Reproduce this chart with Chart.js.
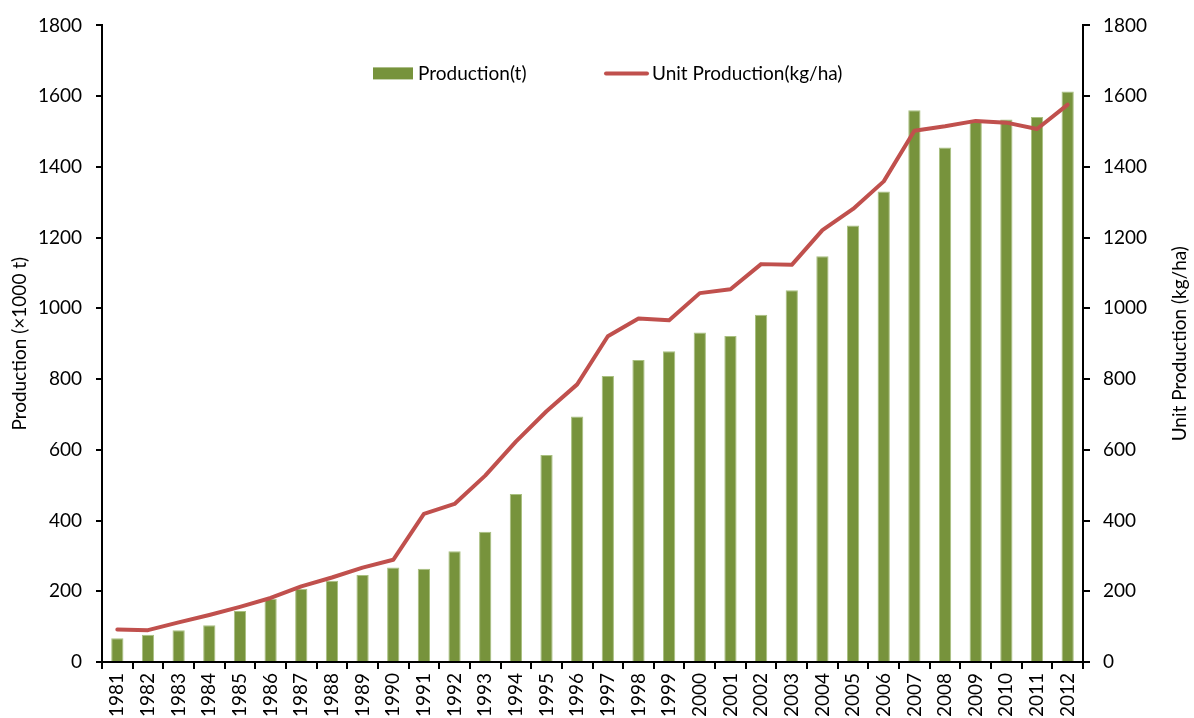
<!DOCTYPE html>
<html>
<head>
<meta charset="utf-8">
<script src="https://cdn.jsdelivr.net/npm/chart.js@4.4.1/dist/chart.umd.min.js"></script>
<style>
  html, body { margin: 0; padding: 0; background: #fff; }
  #wrap { width: 1194px; height: 718px; }
</style>
</head>
<body>
<div id="wrap"><canvas id="c" width="1194" height="718"></canvas></div>
<script>
const years = ['1981','1982','1983','1984','1985','1986','1987','1988','1989','1990','1991','1992','1993','1994','1995','1996','1997','1998','1999','2000','2001','2002','2003','2004','2005','2006','2007','2008','2009','2010','2011','2012'];
const production = [67,77,90,104,144,179,207,230,246,267,264,313,368,475,585,694,809,854,879,932,922,982,1051,1147,1234,1330,1560,1455,1530,1534,1541,1613];
const unitProduction = [92,90,112,133,156,181,214,239,267,289,419,447,527,623,709,785,921,971,966,1043,1054,1125,1123,1221,1281,1359,1502,1515,1530,1525,1507,1576];
const yTicks = [0,200,400,600,800,1000,1200,1400,1600,1800];
const labelProduction = 'Production(t)';
const labelUnit = 'Unit Production(kg/ha)';
const titleLeft = 'Production (×1000 t)';
const titleRight = 'Unit Production (kg/ha)';

const FONT = 'Lato, "Open Sans", sans-serif';
const FS = 19;
Chart.defaults.font.family = FONT;
Chart.defaults.font.size = FS;
Chart.defaults.color = '#000';

const legendPlugin = {
  id: 'inLegend',
  afterDraw(chart) {
    const ctx = chart.ctx;
    const ca = chart.chartArea;
    const ds = chart.data.datasets;
    const cy = ca.top + 48;
    ctx.save();
    ctx.font = FS + 'px ' + FONT;
    ctx.textBaseline = 'middle';
    // bar item
    let x = ca.left + 271;
    ctx.fillStyle = ds[0].backgroundColor;
    ctx.fillRect(x, cy - 6, 40, 12);
    ctx.fillStyle = '#000';
    ctx.fillText(ds[0].label, x + 45, cy);
    // line item
    x = ca.left + 504;
    ctx.strokeStyle = ds[1].borderColor;
    ctx.lineWidth = 4;
    ctx.lineCap = 'round';
    ctx.beginPath();
    ctx.moveTo(x, cy);
    ctx.lineTo(x + 41, cy);
    ctx.stroke();
    ctx.fillText(ds[1].label, x + 46, cy);
    // right axis title, reading bottom to top
    const s = chart.scales.y1;
    ctx.translate(s.right - 14, (ca.top + ca.bottom) / 2);
    ctx.rotate(-Math.PI / 2);
    ctx.textAlign = 'center';
    ctx.fillText(titleRight, 0, 0);
    ctx.restore();
  }
};

const plainTick = v => String(v);

new Chart(document.getElementById('c'), {
  type: 'bar',
  data: {
    labels: years,
    datasets: [
      {
        type: 'bar',
        label: labelProduction,
        data: production,
        backgroundColor: '#77933C',
        borderColor: '#A9C080',
        borderWidth: 1,
        barPercentage: 0.4,
        categoryPercentage: 1.0,
        yAxisID: 'y',
        order: 2
      },
      {
        type: 'line',
        label: labelUnit,
        data: unitProduction,
        borderColor: '#C0504D',
        backgroundColor: '#C0504D',
        borderWidth: 4,
        pointRadius: 0,
        tension: 0,
        borderCapStyle: 'round',
        borderJoinStyle: 'round',
        yAxisID: 'y1',
        order: 1
      }
    ]
  },
  options: {
    responsive: false,
    animation: false,
    devicePixelRatio: 1,
    layout: { padding: { top: 23, left: 0, right: 0, bottom: 0 } },
    plugins: {
      legend: { display: false },
      tooltip: { enabled: false }
    },
    scales: {
      x: {
        grid: { display: true, drawOnChartArea: false, drawTicks: true, tickLength: 7, color: '#000', lineWidth: 2, offset: true },
        border: { display: true, color: '#000', width: 2 },
        ticks: { minRotation: 90, maxRotation: 90, padding: 4, autoSkip: false, font: { size: FS } },
        afterFit(s) { s.height = 56; }
      },
      y: {
        position: 'left',
        min: 0, max: 1800,
        afterBuildTicks(s) { s.ticks = yTicks.map(v => ({ value: v })); },
        grid: { display: true, drawOnChartArea: false, drawTicks: true, tickLength: 6, color: '#000', lineWidth: 2 },
        border: { display: true, color: '#000', width: 2 },
        ticks: { padding: 14, font: { size: FS }, callback: plainTick },
        title: { display: true, text: titleLeft, font: { size: FS }, padding: { top: 8, bottom: 0 } },
        afterFit(s) { s.width = 102; }
      },
      y1: {
        position: 'right',
        min: 0, max: 1800,
        afterBuildTicks(s) { s.ticks = yTicks.map(v => ({ value: v })); },
        grid: { display: true, drawOnChartArea: false, drawTicks: true, tickLength: 7, color: '#000', lineWidth: 2 },
        border: { display: true, color: '#000', width: 2 },
        ticks: { padding: 13, font: { size: FS }, callback: plainTick },
        title: { display: false },
        afterFit(s) { s.width = 111; }
      }
    }
  },
  plugins: [legendPlugin]
});
</script>
</body>
</html>
